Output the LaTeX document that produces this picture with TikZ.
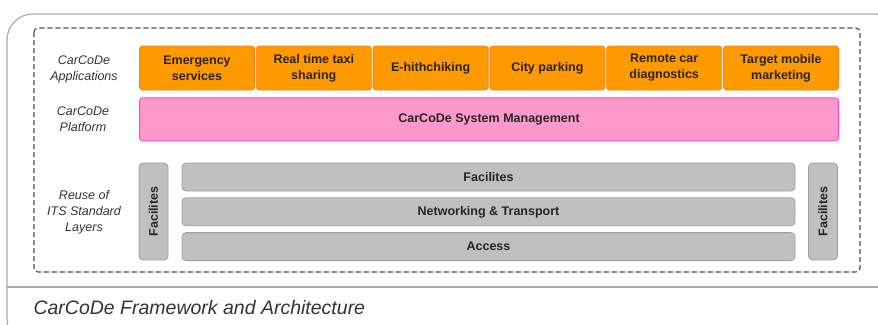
\documentclass[tikz,border=0pt]{standalone}
\usepackage{fontspec}
\setmainfont{Liberation Sans}
\usetikzlibrary{positioning}

\definecolor{appfill}{HTML}{FF9900}
\definecolor{appline}{HTML}{FF7F1A}
\definecolor{platfill}{HTML}{FF99CC}
\definecolor{platline}{HTML}{FF44DD}
\definecolor{itsfill}{HTML}{C0C0C0}
\definecolor{itsline}{HTML}{9E9E9E}
\definecolor{frameline}{HTML}{ABABAB}
\definecolor{dashline}{HTML}{4A4A4A}
\definecolor{labeltext}{HTML}{333333}

\tikzset{
  app/.style={draw=appline, fill=appfill, rounded corners=3pt, line width=0.8pt,
    minimum width=115pt, minimum height=44pt, inner sep=0pt, align=center,
    font=\fontsize{12.5}{16}\selectfont\bfseries, text=black!85},
  platform/.style={draw=platline, fill=platfill, rounded corners=3pt, line width=0.9pt,
    minimum width=699pt, minimum height=43pt, inner sep=0pt,
    font=\fontsize{12.5}{16}\selectfont\bfseries, text=black!85},
  layer/.style={draw=itsline, fill=itsfill, rounded corners=4pt, line width=0.8pt,
    minimum width=613pt, minimum height=28pt, inner sep=0pt,
    font=\fontsize{12.5}{16}\selectfont\bfseries, text=black!85},
  sidelayer/.style={draw=itsline, fill=itsfill, rounded corners=4pt, line width=0.8pt,
    minimum width=97pt, minimum height=29pt, inner sep=0pt, rotate=90,
    font=\fontsize{12.5}{16}\selectfont\bfseries, text=black!85},
  rowlabel/.style={align=center, text=labeltext,
    font=\fontsize{12.5}{16}\selectfont\itshape}
}

\begin{document}
\begin{tikzpicture}[x=1pt,y=-1pt]
  \useasboundingbox (0,0) rectangle (878,324);
  \clip (0,0) rectangle (878,324);

  % outer frame and caption strip
  \draw[frameline, line width=1.2pt, rounded corners=26pt] (7,14) rectangle (900,345);
  \draw[frameline, line width=1.2pt] (7,287) -- (878,287);
  \node[anchor=west, text=labeltext, font=\fontsize{19.5}{23}\selectfont\itshape] (caption)
    at (30,308) {CarCoDe Framework and Architecture};

  % dashed area
  \draw[dashline, dash pattern=on 5pt off 3pt, line width=1.1pt, rounded corners=4pt]
    (34,28) rectangle (860,272);

  % applications
  \node[app] (em) at (197,68) {Emergency\\services};
  \node[app, right=1pt of em] (taxi) {Real time taxi\\sharing};
  \node[app, right=1pt of taxi] (hitch) {E-hithchiking};
  \node[app, right=1pt of hitch] (park) {City parking};
  \node[app, right=1pt of park] (diag) {Remote car\\diagnostics};
  \node[app, right=1pt of diag] (mkt) {Target mobile\\marketing};

  % platform
  \node[platform, anchor=north west] (mgmt) at ([yshift=-7pt]em.south west) {CarCoDe System Management};

  % ITS layers
  \node[layer] (fac) at (488.5,177) {Facilites};
  \node[layer, below=6pt of fac] (net) {Networking \& Transport};
  \node[layer, below=6pt of net] (acc) {Access};
  \node[sidelayer] (facL) at (153.5,211.5) {Facilites};
  \node[sidelayer] (facR) at (823,211.5) {Facilites};

  % row captions
  \node[rowlabel] (lblApp) at (84,69) {CarCoDe\\Applications};
  \node[rowlabel] (lblPlat) at (83,119) {CarCoDe\\Platform};
  \node[rowlabel] (lblIts) at (84,212) {Reuse of\\ITS Standard\\Layers};
\end{tikzpicture}
\end{document}
